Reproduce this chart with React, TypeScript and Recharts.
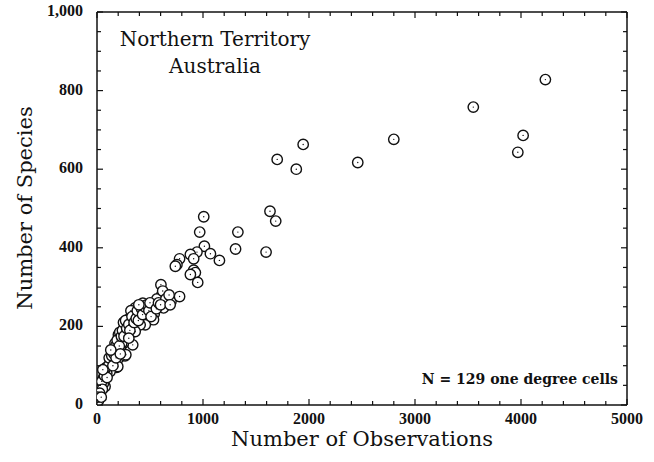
import { Scatter, ScatterChart, XAxis, YAxis } from "recharts";

// one degree cells, Northern Territory
const observations = [
  4230, 3550, 4020, 3970, 2800, 2460, 1945, 1880, 1700, 1632, 1686, 1595,
  1329, 1307, 1007, 969, 1013, 1070, 1155, 943, 881, 912, 779, 754, 739, 912,
  928, 881, 950, 603, 612, 565, 698, 779, 628, 540, 518, 533, 432, 360, 439,
  455, 407, 290, 265, 344, 202, 281, 337, 249, 223, 202, 265, 186, 130, 107,
  60, 76, 28, 0, 123, 161, 170, 306, 344, 400, 476, 272, 196, 123, 60, 360,
  233, 139, 92, 10, 15, 35, 45, 50, 70, 85, 95, 110, 115, 140, 150, 160, 175,
  180, 190, 210, 215, 230, 240, 250, 255, 270, 280, 300, 310, 320, 330, 350,
  370, 380, 390, 420, 430, 450, 470, 490, 500, 510, 560, 580, 620, 650, 680,
  300, 220, 130, 55, 25, 5, 40, 395, 600, 690,
];
const species = [
  828, 758, 686, 643, 676, 617, 663, 600, 625, 493, 468, 389, 440, 397, 479,
  440, 404, 385, 368, 389, 383, 372, 372, 357, 353, 343, 337, 332, 312, 306,
  281, 270, 264, 276, 247, 232, 251, 217, 259, 247, 221, 204, 204, 217, 200,
  187, 179, 173, 153, 157, 140, 119, 125, 96, 102, 89, 68, 47, 38, 17, 115,
  140, 157, 217, 230, 230, 234, 128, 98, 85, 55, 187, 157, 110, 81, 25, 12,
  45, 60, 40, 75, 95, 70, 100, 120, 125, 100, 130, 150, 120, 165, 150, 185,
  175, 190, 210, 175, 215, 195, 205, 190, 240, 225, 210, 220, 240, 215, 245,
  230, 250, 255, 240, 260, 225, 245, 260, 290, 270, 280, 170, 130, 140, 90,
  30, 20, 20, 255, 255, 255,
];

const xTicks = [
  0, 200, 400, 600, 800, 1000, 1200, 1400, 1600, 1800, 2000, 2200, 2400, 2600,
  2800, 3000, 3200, 3400, 3600, 3800, 4000, 4200, 4400, 4600, 4800, 5000,
];
const xLabels = [0, 1000, 2000, 3000, 4000, 5000];
const yTicks = [
  0, 50, 100, 150, 200, 250, 300, 350, 400, 450, 500, 550, 600, 650, 700, 750,
  800, 850, 900, 950, 1000,
];
const yLabels = [0, 200, 400, 600, 800, 1000];

const data = observations.map((obs, i) => ({ obs, spp: species[i] }));

const INK = "#111";
const FONT = "'DejaVu Serif', serif";
const TICK_FONT = "'Liberation Serif', serif";

function BottomTick(props: any) {
  const { x, y, payload } = props;
  const v = payload.value;
  const major = xLabels.includes(v);
  return (
    <g>
      <line x1={x} y1={y} x2={x} y2={y - (major ? 6 : 4)} stroke={INK} strokeWidth={1.2} />
      {major && (
        <text x={x} y={y + 19} textAnchor="middle" fontFamily={TICK_FONT} fontWeight="bold" fontSize={16} fill={INK}>
          {v}
        </text>
      )}
    </g>
  );
}

function TopTick(props: any) {
  const { x, y, payload } = props;
  const major = xLabels.includes(payload.value);
  return <line x1={x} y1={y} x2={x} y2={y + (major ? 6 : 4)} stroke={INK} strokeWidth={1.2} />;
}

function LeftTick(props: any) {
  const { x, y, payload } = props;
  const v = payload.value;
  const major = yLabels.includes(v);
  return (
    <g>
      <line x1={x} y1={y} x2={x + (major ? 6 : 4)} y2={y} stroke={INK} strokeWidth={1.2} />
      {major && (
        <text x={x - 14} y={y + 4} textAnchor="end" fontFamily={TICK_FONT} fontWeight="bold" fontSize={16} fill={INK}>
          {v === 1000 ? "1,000" : v}
        </text>
      )}
    </g>
  );
}

function RightTick(props: any) {
  const { x, y, payload } = props;
  const major = yLabels.includes(payload.value);
  return <line x1={x} y1={y} x2={x - (major ? 6 : 4)} y2={y} stroke={INK} strokeWidth={1.2} />;
}

function OpenCircle(props: any) {
  const { cx, cy } = props;
  return (
    <g>
      <circle cx={cx} cy={cy} r={5.2} fill="#fff" stroke={INK} strokeWidth={1.4} />
      <circle cx={cx} cy={cy} r={0.7} fill={INK} />
    </g>
  );
}

// keeps the top/right frame axes bound to data without drawing anything
function NoMark() {
  return <g />;
}

export default function App() {
  return (
    <div style={{ position: "absolute", left: 0, top: 0, width: 654, height: 462, background: "#fff" }}>
      <ScatterChart width={654} height={462} margin={{ top: 11, right: 26, bottom: 0, left: 0 }}>
        <XAxis
          xAxisId="bottom"
          type="number"
          dataKey="obs"
          domain={[0, 5000]}
          ticks={xTicks}
          interval={0}
          height={57}
          tickSize={0}
          tickMargin={0}
          tick={<BottomTick />}
          axisLine={{ stroke: INK, strokeWidth: 1.5 }}
          allowDataOverflow
        />
        <XAxis
          xAxisId="top"
          orientation="top"
          type="number"
          dataKey="obs"
          domain={[0, 5000]}
          ticks={xTicks}
          interval={0}
          height={1}
          tickSize={0}
          tickMargin={0}
          tick={<TopTick />}
          axisLine={{ stroke: INK, strokeWidth: 1.5 }}
          allowDataOverflow
        />
        <YAxis
          yAxisId="left"
          type="number"
          dataKey="spp"
          domain={[0, 1000]}
          ticks={yTicks}
          interval={0}
          width={97}
          tickSize={0}
          tickMargin={0}
          tick={<LeftTick />}
          axisLine={{ stroke: INK, strokeWidth: 1.5 }}
          allowDataOverflow
        />
        <YAxis
          yAxisId="right"
          orientation="right"
          type="number"
          dataKey="spp"
          domain={[0, 1000]}
          ticks={yTicks}
          interval={0}
          width={1}
          tickSize={0}
          tickMargin={0}
          tick={<RightTick />}
          axisLine={{ stroke: INK, strokeWidth: 1.5 }}
          allowDataOverflow
        />
        <Scatter
          data={data}
          xAxisId="top"
          yAxisId="right"
          shape={<NoMark />}
          isAnimationActive={false}
        />
        <Scatter
          data={data}
          xAxisId="bottom"
          yAxisId="left"
          shape={<OpenCircle />}
          isAnimationActive={false}
        />
      </ScatterChart>
      <svg
        width={654}
        height={462}
        style={{ position: "absolute", left: 0, top: 0, pointerEvents: "none" }}
      >
        <text x={215} y={46} textAnchor="middle" fontFamily={FONT} fontSize={20} fill={INK}>
          Northern Territory
        </text>
        <text x={215} y={73} textAnchor="middle" fontFamily={FONT} fontSize={20} fill={INK}>
          Australia
        </text>
        <text x={618} y={384} textAnchor="end" fontFamily={FONT} fontWeight="bold" fontSize={14} fill={INK}>
          N = 129 one degree cells
        </text>
        <text x={362} y={446} textAnchor="middle" fontFamily={FONT} fontSize={21} fill={INK}>
          Number of Observations
        </text>
        <text
          x={32}
          y={208}
          textAnchor="middle"
          fontFamily={FONT}
          fontSize={21}
          fill={INK}
          transform="rotate(-90 32 208)"
        >
          Number of Species
        </text>
      </svg>
    </div>
  );
}
